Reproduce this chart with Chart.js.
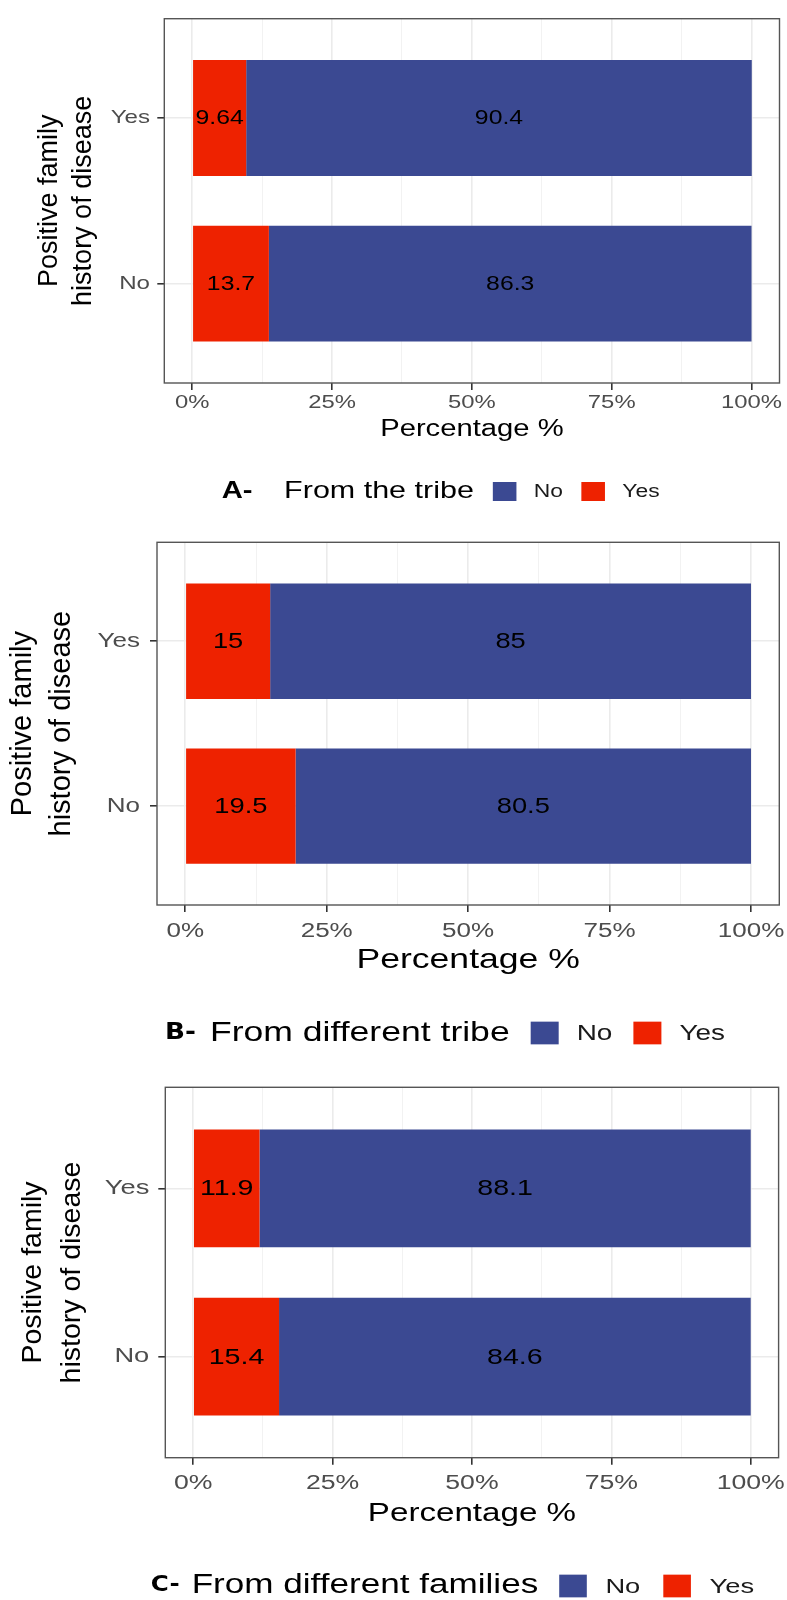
<!DOCTYPE html>
<html>
<head>
<meta charset="utf-8">
<script src="https://cdn.jsdelivr.net/npm/chart.js@4.4.1/dist/chart.umd.min.js"></script>
<style>
  html, body { margin: 0; padding: 0; background: #ffffff; }
  #page { position: relative; width: 787px; height: 1600px; overflow: hidden; background: #ffffff; }
  .panel { position: absolute; left: 0; width: 787px; }
</style>
</head>
<body>
<div id="page">
  <div class="panel" style="top:0px;height:520px"><canvas id="panelA"></canvas></div>
  <div class="panel" style="top:520px;height:540px"><canvas id="panelB"></canvas></div>
  <div class="panel" style="top:1060px;height:540px"><canvas id="panelC"></canvas></div>
</div>
<script>
// ---- data ----
const categories = ['Yes', 'No'];
const responseLabels = ['No', 'Yes'];
const axisTicks = [0, 25, 50, 75, 100];
const axisTickLabels = ['0%', '25%', '50%', '75%', '100%'];
const minorTicks = [12.5, 37.5, 62.5, 87.5];
const yTitleLines = ['Positive family', 'history of disease'];
const xTitleText = 'Percentage %';

const tribeYes = [9.64, 13.7];
const tribeNo = [90.4, 86.3];
const otherTribeYes = [15, 19.5];
const otherTribeNo = [85, 80.5];
const familiesYes = [11.9, 15.4];
const familiesNo = [88.1, 84.6];

const panelTags = ['A-', 'B-', 'C-'];
const panelTitles = ['From the tribe', 'From different tribe', 'From different families'];

// ---- styling ----
const FONT = "'Liberation Sans', Arial, Helvetica, sans-serif";
const NARROW_FONT = "'Liberation Sans Narrow', 'DejaVu Sans Condensed', 'Liberation Sans', Arial, sans-serif";
Chart.defaults.font.family = FONT;
const RED = '#EE2200';
const BLUE = '#3B4992';
const TICK_TEXT = '#4D4D4D';
const GRID_MAJOR = '#EBEBEB';
const GRID_MINOR = '#F1F1F1';
const colorFor = { Yes: RED, No: BLUE };

const gridValues = axisTicks.concat(minorTicks).sort((a, b) => a - b);
const isMajor = v => axisTicks.indexOf(v) >= 0;

// Widens horizontal text only; rotated text is left untouched.
const textStretch = {
  id: 'textStretch',
  afterInit(chart, args, opts) {
    const ctx = chart.ctx;
    const k = opts.factor || 1;
    const base = CanvasRenderingContext2D.prototype.fillText;
    ctx.fillText = function (text, x, y, maxWidth) {
      const m = this.getTransform();
      if (k === 1 || Math.abs(m.b) > 1e-6 || Math.abs(m.c) > 1e-6) {
        return maxWidth === undefined ? base.call(this, text, x, y) : base.call(this, text, x, y, maxWidth);
      }
      this.save();
      this.translate(x, y);
      this.scale(k, 1);
      if (maxWidth === undefined) base.call(this, text, 0, 0);
      else base.call(this, text, 0, 0, maxWidth / k);
      this.restore();
    };
  }
};

// Value labels centred in every bar segment
const segmentLabels = {
  id: 'segmentLabels',
  afterDatasetsDraw(chart, args, opts) {
    const ctx = chart.ctx;
    ctx.save();
    ctx.font = opts.size + 'px ' + FONT;
    ctx.fillStyle = '#000000';
    ctx.textAlign = 'center';
    ctx.textBaseline = 'middle';
    chart.data.datasets.forEach((ds, di) => {
      chart.getDatasetMeta(di).data.forEach((bar, j) => {
        const p = bar.getProps(['x', 'base', 'y'], true);
        ctx.fillText(String(ds.data[j].x), (p.x + p.base) / 2, p.y + 1);
      });
    });
    ctx.restore();
  }
};

// Panel border around the plotting area
const panelFrame = {
  id: 'panelFrame',
  afterDatasetsDraw(chart) {
    const a = chart.chartArea;
    const ctx = chart.ctx;
    ctx.save();
    ctx.strokeStyle = '#555555';
    ctx.lineWidth = 1.4;
    ctx.strokeRect(a.left, a.top, a.right - a.left, a.bottom - a.top);
    ctx.restore();
  }
};

// Single-row legend: bold tag, title, then coloured keys
const panelLegend = {
  id: 'panelLegend',
  afterDraw(chart, args, o) {
    const ctx = chart.ctx;
    const k = chart.options.plugins.textStretch.factor || 1;
    ctx.save();
    ctx.textAlign = 'left';
    ctx.textBaseline = 'middle';
    ctx.fillStyle = '#000000';
    let x = o.x;
    ctx.font = 'bold ' + o.tagSize + 'px ' + (o.tagNarrow ? NARROW_FONT : FONT);
    ctx.fillText(o.tag, x, o.y);
    x += ctx.measureText(o.tag).width * k + o.tagGap;
    ctx.font = o.titleSize + 'px ' + FONT;
    ctx.fillText(o.title, x, o.y);
    x += ctx.measureText(o.title).width * k + o.titleGap;
    ctx.font = o.labelSize + 'px ' + FONT;
    o.items.forEach(name => {
      const ds = chart.data.datasets.find(d => d.label === name);
      ctx.fillStyle = ds.backgroundColor;
      ctx.fillRect(x, o.y - o.swH / 2, o.swW, o.swH);
      x += o.swW + o.swGap;
      ctx.fillStyle = '#1A1A1A';
      ctx.fillText(name, x, o.y + 1);
      x += ctx.measureText(name).width * k + o.itemGap;
    });
    ctx.restore();
  }
};

const panels = [
  {
    canvas: 'panelA', tag: panelTags[0], title: panelTitles[0], yes: tribeYes, no: tribeNo,
    look: {
      height: 520, box: { l: 164.3, r: 779.5, t: 13.5, b: 383 }, stretch: 1.27,
      xTickSize: 18.8, xTickPad: 2, yTickSize: 19, yTickPad: 7.3,
      xTitleSize: 23, xTitleY: 429.5, yTitleSize: 27, yTitleLine: 34, yTitlePad: 33,
      labelSize: 19.5,
      legend: { y: 491.5, x: 221.7, tagSize: 23, tagNarrow: false, tagGap: 31.6, titleSize: 24, titleGap: 19,
                labelSize: 18, swW: 23.6, swH: 19, swGap: 17.4, itemGap: 18.3 }
    }
  },
  {
    canvas: 'panelB', tag: panelTags[1], title: panelTitles[1], yes: otherTribeYes, no: otherTribeNo,
    look: {
      height: 540, box: { l: 157, r: 779.3, t: 16.5, b: 385 }, stretch: 1.27,
      xTickSize: 20.5, xTickPad: 7.4, yTickSize: 20.5, yTickPad: 10,
      xTitleSize: 28, xTitleY: 440.5, yTitleSize: 29, yTitleLine: 38.4, yTitlePad: 4.1,
      labelSize: 21.5,
      legend: { y: 513, x: 165, tagSize: 23, tagNarrow: true, tagGap: 14, titleSize: 28, titleGap: 21,
                labelSize: 22, swW: 28, swH: 22.7, swGap: 18, itemGap: 21 }
    }
  },
  {
    canvas: 'panelC', tag: panelTags[2], title: panelTitles[2], yes: familiesYes, no: familiesNo,
    look: {
      height: 540, box: { l: 165.3, r: 778.6, t: 27.3, b: 397.7 }, stretch: 1.3,
      xTickSize: 20.5, xTickPad: 6.3, yTickSize: 21, yTickPad: 9,
      xTitleSize: 25.5, xTitleY: 454, yTitleSize: 28.5, yTitleLine: 39.2, yTitlePad: 13.7,
      labelSize: 22,
      legend: { y: 526, x: 150.8, tagSize: 21, tagNarrow: true, tagGap: 12, titleSize: 27, titleGap: 21,
                labelSize: 21, swW: 27.6, swH: 22.7, swGap: 18.6, itemGap: 23 }
    }
  }
];

panels.forEach(p => {
  const L = p.look;
  const xAxisHeight = L.xTitleY - L.box.b + (L.xTitleSize * 1.2) / 2;
  new Chart(document.getElementById(p.canvas), {
    type: 'bar',
    data: {
      datasets: [
        { label: 'Yes', data: p.yes.map((v, i) => ({ x: v, y: i })), backgroundColor: colorFor.Yes,
          barPercentage: 0.7, categoryPercentage: 1, borderWidth: 0 },
        { label: 'No', data: p.no.map((v, i) => ({ x: v, y: i })), backgroundColor: colorFor.No,
          barPercentage: 0.7, categoryPercentage: 1, borderWidth: 0 }
      ]
    },
    options: {
      indexAxis: 'y',
      responsive: true,
      maintainAspectRatio: false,
      animation: false,
      events: [],
      layout: {
        padding: {
          left: 0,
          top: L.box.t,
          right: 787 - L.box.r,
          bottom: L.height - L.box.b - xAxisHeight
        }
      },
      scales: {
        x: {
          type: 'linear', min: -5, max: 105, stacked: true, offset: false,
          afterBuildTicks: s => { s.ticks = gridValues.map(v => ({ value: v })); },
          afterFit: s => { s.height = xAxisHeight; },
          ticks: {
            autoSkip: false, maxRotation: 0, minRotation: 0,
            padding: L.xTickPad, color: TICK_TEXT, font: { size: L.xTickSize },
            callback: v => { const i = axisTicks.indexOf(v); return i >= 0 ? axisTickLabels[i] : ''; }
          },
          grid: {
            offset: false,
            color: c => isMajor(c.tick.value) ? GRID_MAJOR : GRID_MINOR,
            lineWidth: c => isMajor(c.tick.value) ? 1.6 : 0.9,
            drawTicks: true, tickLength: 7, tickWidth: 1.6,
            tickColor: c => isMajor(c.tick.value) ? '#333333' : 'rgba(0,0,0,0)'
          },
          border: { display: false },
          title: { display: true, text: xTitleText, color: '#000000',
                   font: { size: L.xTitleSize, lineHeight: 1.2 }, padding: { top: 0, bottom: 0 } }
        },
        y: {
          type: 'linear', min: -0.6, max: categories.length - 0.4, reverse: true, stacked: true,
          offset: false,
          afterBuildTicks: s => { s.ticks = categories.map((c, i) => ({ value: i })); },
          afterFit: s => { s.width = L.box.l; },
          ticks: {
            padding: L.yTickPad, color: TICK_TEXT, font: { size: L.yTickSize },
            callback: v => categories[v] !== undefined ? categories[v] : ''
          },
          grid: { offset: false, color: GRID_MAJOR, lineWidth: 1.6, drawTicks: true, tickLength: 7,
                  tickWidth: 1.6, tickColor: '#333333' },
          border: { display: false },
          title: { display: true, text: yTitleLines, color: '#000000',
                   font: { size: L.yTitleSize, lineHeight: L.yTitleLine / L.yTitleSize },
                   padding: { top: L.yTitlePad, bottom: 0 } }
        }
      },
      plugins: {
        legend: { display: false },
        tooltip: { enabled: false },
        textStretch: { factor: L.stretch },
        segmentLabels: { size: L.labelSize },
        panelLegend: Object.assign({ tag: p.tag, title: p.title, items: responseLabels }, L.legend)
      }
    },
    plugins: [textStretch, segmentLabels, panelFrame, panelLegend]
  });
});
</script>
</body>
</html>
